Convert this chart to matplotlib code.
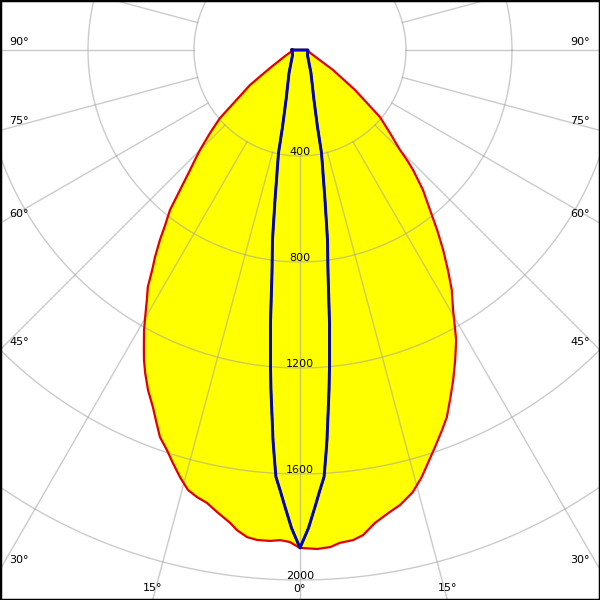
import numpy as np
import matplotlib.pyplot as plt

# luminous intensity (cd), gamma in degrees measured from nadir
# C0-C180 plane (red outline, yellow fill), left half then right half
red_left_gamma = [0, 1.2, 2.3, 3.5, 5.0, 6.2, 7.5, 8.4, 10.2, 11.6, 13.0, 14.3, 15.7,
                  17.1, 18.4, 19.9, 21.3, 22.4, 24.1, 25.6, 26.7, 27.5, 29.1, 30.1,
                  31.5, 32.7, 33.9, 35.0, 36.4, 37.6, 39.1, 40.6, 42.5, 43.7, 45,
                  47.3, 49.6, 55, 59, 68, 83, 90]
red_left_cd = [1879, 1857, 1851, 1856, 1856, 1849, 1827, 1804, 1771, 1745, 1731, 1713, 1674,
               1631, 1591, 1553, 1498, 1457, 1405, 1352, 1310, 1276, 1210, 1165,
               1106, 1063, 1000, 954, 891, 834, 778, 696, 614, 574, 534,
               462, 397, 230, 132, 61, 30, 30]
red_right_gamma = [0, 2.0, 3.5, 4.6, 6.2, 7.4, 9.0, 11.0, 12.4, 14.3, 15.9, 17.2, 18.8,
                   20.5, 21.8, 23.2, 24.9, 26.6, 28.3, 29.2, 30.5, 32.3, 33.9, 35.6,
                   37.3, 39.1, 41.3, 43.3, 44.2, 45, 47.3, 50, 54, 58.8, 69, 83, 90]
red_right_cd = [1879, 1884, 1879, 1866, 1860, 1846, 1807, 1776, 1758, 1722, 1676, 1632, 1582,
                1531, 1492, 1437, 1373, 1308, 1243, 1198, 1138, 1072, 1001, 928,
                854, 778, 703, 622, 579, 534, 462, 394, 256, 145, 52, 30, 30]

# C90-C270 plane (blue), symmetric
blue_gamma = [0, 1.02, 1.88, 2.6, 3.22, 3.56, 3.96, 4.88, 5.32, 6.17, 7.16, 8.24, 9.46,
              11.8, 12.8, 15.6, 25.5, 56, 90]
blue_cd = [1879, 1804, 1725, 1662, 1614, 1550, 1475, 1288, 1201, 1036, 848, 724, 574,
           397, 298, 196, 96, 34, 30]

rings = [400, 800, 1200, 1600, 2000, 2400]
ring_labels = ['400', '800', '1200', '1600', '2000']
angle_labels = ['90°', '75°', '60°', '45°', '30°', '15°', '0°']

s = 0.265  # pixels per cd


def to_xy(gamma, cd, side):
    g = np.radians(gamma)
    cd = np.asarray(cd, float)
    return side * cd * np.sin(g), -cd * np.cos(g)


def pix(xp, yp):
    return (xp - 300) / s, (50 - yp) / s


fig = plt.figure(figsize=(6, 6), dpi=100)
ax = fig.add_axes([0, 0, 1, 1])
ax.set_xlim(-300 / s, 300 / s)
ax.set_ylim(-550 / s, 50 / s)
ax.set_xticks([])
ax.set_yticks([])
for sp in ax.spines.values():
    sp.set_color('black')
    sp.set_linewidth(2.5)

# red curve, closed across the top
lx, ly = to_xy(red_left_gamma[::-1], red_left_cd[::-1], -1)
rx, ry = to_xy(red_right_gamma, red_right_cd, 1)
red_x = np.concatenate([lx, rx, lx[:1]])
red_y = np.concatenate([ly, ry, ly[:1]])
ax.fill(red_x, red_y, color='#ffff00', zorder=1, lw=0)

# grid
t = np.linspace(0, 2 * np.pi, 721)
for r in rings:
    ax.plot(r * np.cos(t), r * np.sin(t), color='#a0a0a0', alpha=0.55, lw=1, zorder=2)
for a in range(0, 360, 15):
    g = np.radians(a)
    ax.plot([400 * np.sin(g), 2700 * np.sin(g)], [-400 * np.cos(g), -2700 * np.cos(g)],
            color='#a0a0a0', alpha=0.55, lw=1, zorder=2)

ax.plot(red_x, red_y, color='#e00000', lw=1.6, zorder=3, solid_joinstyle='round')

bx1, by1 = to_xy(blue_gamma[::-1], blue_cd[::-1], -1)
bx2, by2 = to_xy(blue_gamma, blue_cd, 1)
blue_x = np.concatenate([bx1, bx2, bx1[:1]])
blue_y = np.concatenate([by1, by2, by1[:1]])
ax.plot(blue_x, blue_y, color='#101030', lw=2.1, zorder=4)
ax.plot(blue_x, blue_y, color='#0000e0', lw=1.6, zorder=5)

# intensity labels, sitting on their rings
for r, lab in zip(rings, ring_labels):
    ax.text(0, -r + 1.5 / s, lab, ha='center', va='baseline', fontsize=8, zorder=6)

# angle labels along the frame
left_pos = [(9, 42), (9, 121), (9, 214), (9, 342), (9, 560), (143, 588)]
right_pos = [(590, 42), (590, 121), (590, 214), (590, 342), (590, 560), (438, 588)]
for lab, (xp, yp) in zip(angle_labels[:6], left_pos):
    ax.text(*pix(xp, yp), lab, ha='left', va='center', fontsize=8, zorder=6)
for i, (lab, (xp, yp)) in enumerate(zip(angle_labels[:6], right_pos)):
    ax.text(*pix(xp, yp), lab, ha='right' if i < 5 else 'left', va='center',
            fontsize=8, zorder=6)
ax.text(*pix(293, 589), angle_labels[6], ha='left', va='center', fontsize=8, zorder=6)

fig.savefig('out.png', dpi=100)
